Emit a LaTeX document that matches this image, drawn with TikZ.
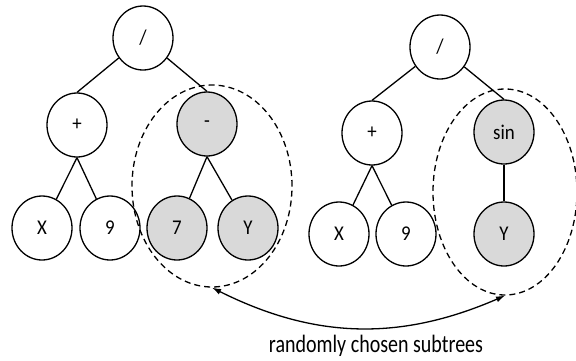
\documentclass[tikz,border=0pt]{standalone}
\usepackage{fontspec}
\setmainfont{Carlito}
\newfontfamily\nodefont{Carlito}[FakeStretch=0.9]
\newfontfamily\capfont{Carlito}[FakeStretch=0.8]
\usetikzlibrary{shapes.geometric,arrows.meta}
\tikzset{
  op/.style={ellipse,draw,line width=1.3pt,minimum width=60pt,minimum height=64pt,inner sep=0pt,font=\nodefont\fontsize{21}{22}\selectfont},
  picked/.style={op,fill=gray!30},
  subtree/.style={ellipse,draw,line width=1.3pt,dash pattern=on 6pt off 4pt,inner sep=0pt},
  >={Latex[length=9pt,width=6pt]}
}
\begin{document}
\begin{tikzpicture}[x=1pt,y=-1pt,line width=1.3pt]
    \useasboundingbox (0,0) rectangle (576,360);
    % dashed rings round the two subtrees
    \node[subtree,minimum width=160pt,minimum height=202pt] (lsub) at (212,186) {};
    \node[subtree,minimum width=144pt,minimum height=206pt] (rsub) at (505,192) {};
    % first tree
    \node[op] (l) at (143,38) {/};
    \node[op] (lp) at (77,125) {+};
    \node[picked] (lm) at (207,124) {-};
    \node[op] (lx) at (42,228) {X};
    \node[op] (l9) at (110,228) {9};
    \node[picked] (l7) at (177,228) {7};
    \node[picked] (ly) at (248,228) {Y};
      \draw (l) -- (lp.north);
      \draw (l) -- (lm.north);
      \draw (lp.south) -- (lx);
      \draw (lp.south) -- (l9);
      \draw (lm.south) -- (l7);
      \draw (lm.south) -- (ly);
    % second tree
    \node[op] (r) at (440,47) {/};
    \node[op] (rp) at (372,133) {+};
    \node[picked] (rs) at (504,132) {sin};
    \node[op] (rx) at (339,234) {X};
    \node[op] (r9) at (406,234) {9};
    \node[picked] (ry) at (504,234) {Y};
      \draw (r) -- (rp.north);
      \draw (r) -- (rs.north);
      \draw (rp.south) -- (rx);
      \draw (rp.south) -- (r9);
      \draw (rs) -- (ry);
    % swap arrow
    \draw [<->] (lsub.south) to[bend right=25] (rsub.south);
    \node[anchor=base,inner sep=0pt,font=\capfont\fontsize{25}{27}\selectfont] (cap) at (376,352) {randomly chosen subtrees};
 \end{tikzpicture}
\end{document}
